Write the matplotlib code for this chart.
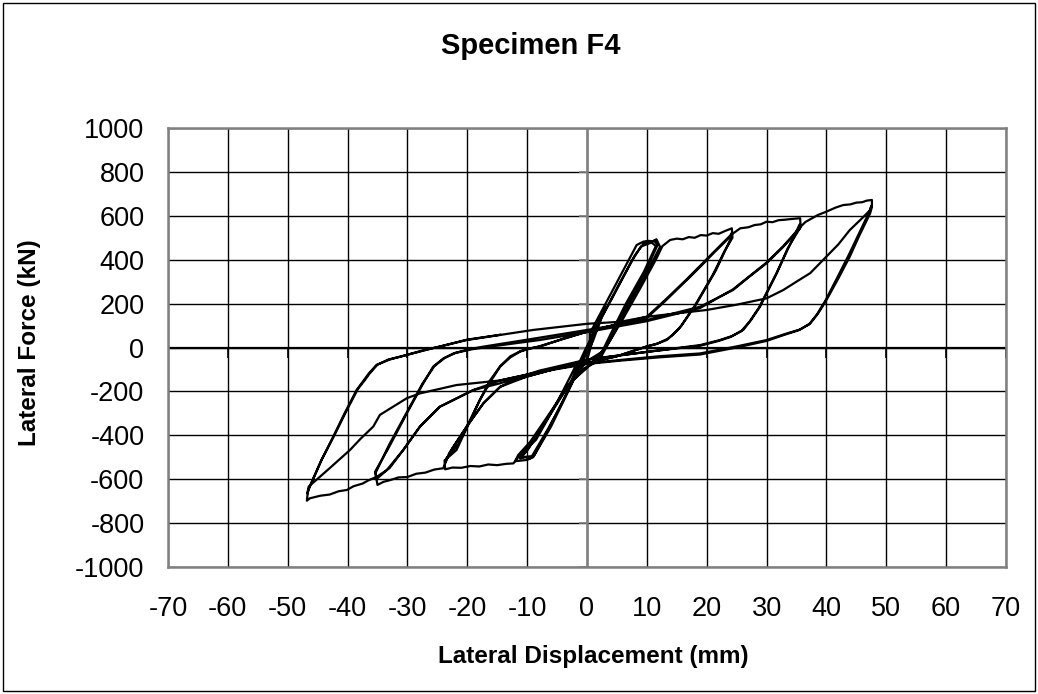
import matplotlib
matplotlib.use("Agg")
from matplotlib import pyplot as plt
from matplotlib.patches import Rectangle
import numpy as np

plt.rcParams['font.family'] = ['Liberation Sans', 'DejaVu Sans']
plt.rcParams['axes.unicode_minus'] = False

# hysteresis record, split by displacement level (mm, kN)
c03_x = [0.0, 1.3, 2.8, 3.1, 1.9, 0.3, -1.4, -2.7, -3.0, -1.9, -0.3, 0.5]
c03_y = [0, 90, 175, 185, 110, 5, -90, -165, -175, -105, -10, 30]

c12a_x = [0.5, 2.0, 4.0, 6.0, 8.3, 9.4, 10.2, 11.0, 11.6, 12.2, 10.0, 7.0, 5.0,
          3.3, 2.0, -0.5, -3.0, -6.0, -9.5, -11.5, -12.0, -11.0, -10.0, -9.0,
          -6.0, -3.5, -1.7, -0.5, 1.0]
c12a_y = [66, 143, 246, 349, 467, 482, 486, 484, 493, 459, 340, 190, 90,
          4, -60, -95, -170, -290, -430, -490, -518, -515, -512, -500,
          -360, -220, -117, -50, 30]

c12b_x = [2.5, 5.0, 8.0, 9.5, 10.5, 11.2, 11.8, 10.0, 7.0, 5.0, 3.5, 2.0, 0.0,
          -3.5, -7.0, -10.0, -11.2, -10.3, -9.5, -8.8, -6.0, -3.8, -2.0, 0.0]
c12b_y = [140, 270, 420, 475, 480, 486, 468, 360, 205, 110, 20, -50, -90,
          -180, -340, -470, -505, -500, -505, -490, -350, -230, -130, -60]

c12c_x = [1.5, 4.5, 7.5, 9.0, 10.8, 11.5, 9.5, 6.5, 4.2, 2.6, 0.5, -2.8, -6.5,
          -9.8, -11.0, -9.2, -6.5, -4.2, -2.3, -0.5]
c12c_y = [90, 240, 395, 460, 478, 462, 345, 200, 75, -15, -80, -160, -320,
          -460, -500, -495, -370, -255, -150, -70]

c24a_x = [2.5, 3.6, 6.0, 9.0, 11.5, 12.6, 13.9, 15.0, 16.0, 17.0, 18.0, 19.0,
          20.0, 21.0, 22.0, 23.0, 24.2, 24.3, 23.0, 21.0, 18.0, 16.5, 15.5,
          14.2, 13.3, 11.5, 10.0, 5.0, 0.0, -2.0, -5.0, -8.5, -11.5, -12.3,
          -13.5, -15.0, -16.5, -18.0, -19.5, -21.0, -22.5, -23.7, -23.8, -21.8,
          -19.8, -17.9, -16.0, -14.5, -12.8, -11.2, -9.5, -7.9, -4.0, 0.0, 5.0,
          10.0]
c24a_y = [-20, 20, 130, 275, 400, 462, 490, 496, 493, 503, 500, 512,
          510, 521, 518, 530, 543, 500, 440, 330, 190, 130, 90,
          55, 34, 15, 5, -40, -72, -90, -250, -420, -500, -528,
          -530, -536, -533, -542, -540, -548, -547, -555, -515, -467,
          -350, -239, -150, -87, -45, -19, -4, 4, 40, 72, 105,
          135]

c24b_x = [13.0, 16.7, 19.0, 21.1, 23.0, 23.9, 24.2, 24.0, 21.5, 18.3, 16.8,
          15.8, 14.5, 13.5, 11.8, 10.0, 5.0, 0.0, -5.0, -10.1, -12.5, -14.5,
          -17.3, -20.1, -22.5, -23.7, -23.5, -21.5, -17.9, -16.2, -14.5, -12.8,
          -11.0, -7.9, 0.0, 10.0]
c24b_y = [210, 308, 370, 429, 480, 505, 522, 495, 350, 200, 140,
          100, 62, 40, 18, 5, -40, -70, -95, -133, -152, -179,
          -254, -360, -460, -522, -505, -440, -239, -150, -85, -40,
          -15, 6, 72, 140]

c35a_x = [13.0, 16.7, 21.1, 24.0, 25.6, 27.0, 28.0, 29.0, 30.0, 31.0, 32.0,
          33.0, 34.0, 35.6, 35.7, 33.5, 31.7, 28.9, 27.4, 26.1, 24.2, 22.2,
          18.9, 10.0, 0.0, -5.0, -10.1, -14.5, -17.3, -20.1, -23.0, -24.0,
          -25.5, -27.0, -28.5, -30.0, -31.5, -33.0, -34.0, -35.0, -35.4, -33.0,
          -30.1, -27.5, -25.7, -24.0, -22.3, -19.8, -17.3, -9.0, 0.0, 10.0,
          18.9]
c35a_y = [215, 312, 433, 512, 543, 548, 558, 561, 573, 571, 580,
          582, 585, 589, 550, 450, 338, 186, 125, 80, 52, 34,
          11, -20, -55, -95, -133, -179, -254, -360, -480, -550,
          -556, -570, -575, -590, -592, -605, -612, -626, -566, -450,
          -300, -170, -87, -50, -27, -8, 4, 40, 80, 125,
          186]

c35b_x = [24.4, 27.0, 30.0, 32.8, 34.5, 35.6, 35.5, 33.5, 31.5, 28.7, 27.2,
          25.8, 24.0, 22.0, 18.9, 10.0, 0.0, -7.9, -14.5, -19.0, -24.6, -27.9,
          -30.7, -33.5, -35.2, -35.3, -33.0, -30.0, -27.5, -25.5, -23.8, -22.0,
          -19.2, -16.2, -7.9, 0.0, 10.0, 18.9]
c35b_y = [262, 320, 384, 459, 510, 543, 560, 445, 330, 180, 120,
          75, 48, 30, 8, -20, -55, -105, -163, -194, -270, -360,
          -467, -560, -600, -570, -440, -290, -165, -85, -48, -25,
          -8, 4, 34, 70, 120, 180]

c47a_x = [24.4, 30.0, 32.8, 35.6, 36.5, 38.6, 40.0, 41.5, 42.8, 44.0, 45.0,
          46.0, 46.7, 47.6, 47.6, 47.3, 45.5, 43.9, 42.0, 40.0, 38.6, 37.3,
          35.6, 33.5, 30.0, 25.0, 18.9, 12.0, 5.5, 0.0, -7.9, -14.5, -19.0,
          -24.6, -27.9, -30.7, -33.0, -35.1, -36.5, -37.5, -39.0, -40.1, -41.5,
          -43.0, -44.5, -46.3, -46.8, -46.6, -44.5, -42.4, -40.5, -38.5, -37.3,
          -36.5, -35.2, -33.0, -31.2, -27.0, -24.6, -20.1, -14.5, -9.0, 0.0,
          5.5, 10.0, 20.0]
c47a_y = [265, 387, 462, 548, 572, 604, 619, 637, 649, 652, 660,
          662, 669, 672, 640, 611, 510, 414, 315, 216, 155, 110,
          82, 65, 34, 5, -27, -40, -57, -72, -110, -150, -194,
          -270, -360, -467, -550, -589, -605, -620, -632, -649, -655,
          -670, -675, -687, -698, -650, -520, -406, -300, -194, -150,
          -120, -80, -55, -42, -10, 4, 34, 57, 80, 108,
          117, 140, 171]

c47b_x = [20.0, 25.0, 30.0, 32.8, 35.0, 37.3, 40.0, 42.0, 43.9, 46.0, 47.3,
          47.5, 47.2, 45.8, 43.7, 41.8, 39.8, 38.4, 37.1, 35.3, 33.0, 30.0,
          25.0, 18.9, 12.0, 5.5, 0.0, -7.9, -14.5, -21.8, -27.9, -30.1, -32.4,
          -34.6, -35.7, -37.8, -39.6, -43.0, -46.5, -46.7, -46.4, -44.3, -42.2,
          -40.3, -38.3, -37.1, -36.3, -35.0, -33.2, -31.0, -24.4, -20.0, -14.5]
c47b_y = [171, 195, 224, 262, 300, 339, 414, 470, 535, 590, 626,
          645, 620, 540, 420, 318, 212, 150, 105, 78, 58, 30,
          0, -32, -45, -60, -75, -112, -150, -171, -209, -231, -270,
          -307, -360, -415, -467, -550, -634, -665, -640, -510, -400,
          -295, -190, -148, -118, -78, -55, -40, 6, 36, 58]

x_ticks = list(range(-70, 71, 10))
y_ticks = list(range(-1000, 1001, 200))

disp = np.concatenate([c03_x, c12a_x, c12b_x, c12c_x, c24a_x, c24b_x,
                       c35a_x, c35b_x, c47a_x, c47b_x])
force = np.concatenate([c03_y, c12a_y, c12b_y, c12c_y, c24a_y, c24b_y,
                        c35a_y, c35b_y, c47a_y, c47b_y])

fig = plt.figure(figsize=(10.38, 6.94), dpi=100)
ax = fig.add_axes([168 / 1038, 127 / 694, 838 / 1038, 439 / 694])

ax.set_xlim(-70, 70)
ax.set_ylim(-1000, 1000)
ax.set_xticks(x_ticks)
ax.set_yticks(y_ticks)
ax.grid(True, color='black', lw=1.0)
ax.set_axisbelow(True)
ax.tick_params(length=0, labelsize=19.5)
ax.tick_params(axis='x', pad=21)
ax.tick_params(axis='y', pad=17)
for s in ax.spines.values():
    s.set_color('#808080')
    s.set_linewidth(1.8)

# axes through the origin with small tick marks
ax.axhline(0, color='black', lw=1.6, zorder=2)
ax.axvline(0, color='#808080', lw=1.8, zorder=2)
ax.plot(x_ticks, [0] * len(x_ticks), ls='none', marker=3, ms=7,
        mew=1.2, color='black', zorder=2)
ax.plot([0] * len(y_ticks), y_ticks, ls='none', marker=0, ms=6,
        mew=1.2, color='#808080', zorder=2)

ax.plot(disp, force, color='black', lw=1.6, solid_joinstyle='round', zorder=3)

fig.text(531 / 1038, 1 - 46 / 694, 'Specimen F4', ha='center', va='center',
         fontsize=21, fontweight='bold')
fig.text(593 / 1038, 1 - 657 / 694, 'Lateral Displacement (mm)', ha='center',
         va='center', fontsize=17.5, fontweight='bold')
fig.text(30 / 1038, 1 - 343 / 694, 'Lateral Force (kN)', ha='center',
         va='center', rotation=90, fontsize=17.5, fontweight='bold')

fig.patches.append(Rectangle((3 / 1038, 3 / 694), 1032 / 1038, 688 / 694,
                             transform=fig.transFigure, fill=False,
                             ec='black', lw=1.0))

fig.savefig('out.png', dpi=100)
